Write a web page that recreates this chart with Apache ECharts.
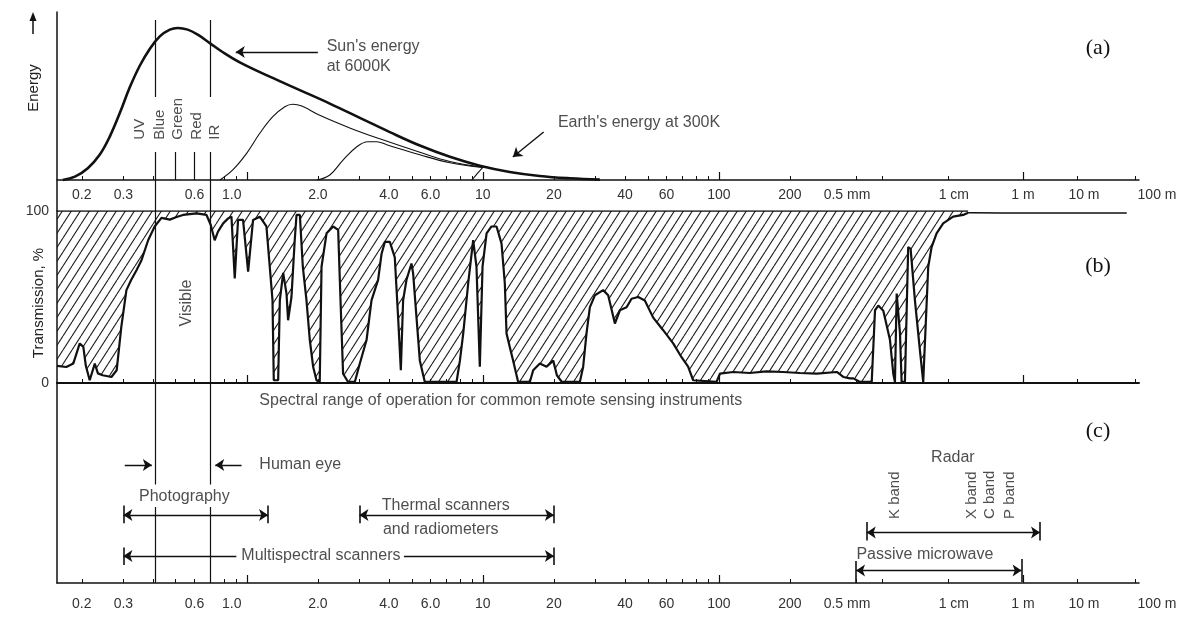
<!DOCTYPE html>
<html>
<head>
<meta charset="utf-8">
<title>Atmospheric windows and remote sensing bands</title>
<script src="https://cdn.jsdelivr.net/npm/echarts@6/dist/echarts.min.js"></script>
<style>
  html, body { margin: 0; padding: 0; background: #fff; }
  #chart { width: 1192px; height: 624px; }
</style>
</head>
<body>
<div id="chart"></div>
<script>
// ---------------------------------------------------------------
// Wavelength scale: logarithmic (one decade per unit) up to 200 µm,
// then compressed through the microwave / radio part of the spectrum.
// ---------------------------------------------------------------
const SCALE_WL = [0.1, 200, 500, 1000, 1e4, 1e6, 1e7, 1e8];   // µm
const SCALE_AT = [-1, 2.301, 2.581, 2.691, 2.970, 3.288, 3.517, 3.763];
function pos(wl) {
  const l = Math.log10(wl);
  for (let i = 0; i < SCALE_WL.length - 1; i++) {
    const a = Math.log10(SCALE_WL[i]), b = Math.log10(SCALE_WL[i + 1]);
    if (l <= b || i === SCALE_WL.length - 2) {
      return SCALE_AT[i] + (l - a) / (b - a) * (SCALE_AT[i + 1] - SCALE_AT[i]);
    }
  }
}
const WL_MIN = 0.157, WL_MAX = 1.17e8;

// Axis ticks and labels (wavelength in µm)
const TICK_WL  = [0.2, 0.3, 0.4, 0.5, 0.6, 0.7, 0.8, 0.9, 2, 3, 4, 5, 6, 7, 8, 9,
                  20, 30, 40, 50, 60, 70, 80, 90, 200, 500, 1000, 1e4, 1e7, 1e8];
const MAJOR_WL = [1, 10, 100, 1e6];
const LABEL_WL  = [0.2, 0.3, 0.6, 1, 2, 4, 6, 10, 20, 40, 60, 100, 200, 500, 1e4, 1e6, 1e7, 1e8];
const LABEL_TXT = ['0.2', '0.3', '0.6', '1.0', '2.0', '4.0', '6.0', '10', '20', '40', '60',
                   '100', '200', '0.5 mm', '1 cm', '1 m', '10 m', '100 m'];

// (a) Blackbody energy curves (relative energy)
const SUN_WL = [0.166, 0.187, 0.212, 0.238, 0.263, 0.290, 0.319, 0.352, 0.388, 0.428,
                0.472, 0.510, 0.562, 0.620, 0.697, 0.783, 0.934, 1.251, 1.677, 2.247,
                3.012, 4.036, 5.409, 7.25, 9.71, 13.0, 17.4, 23.4, 31.3];
const SUN_E  = [0, 2, 7, 15, 26, 40, 55, 68, 78, 85.5,
                89.5, 90.5, 89.5, 86.5, 81.5, 76.5, 70, 61.5, 53.5, 45.5,
                37, 28.5, 20.5, 13.8, 8.5, 4.8, 2.4, 1, 0.2];
const MID1_WL = [0.769, 0.872, 1.0, 1.135, 1.289, 1.449, 1.566, 1.710, 2.037, 2.730, 3.659, 5.409, 7.25, 9.99];
const MID1_E  = [0, 6, 16, 27.8, 37.7, 43.6, 45.1, 44, 38.5, 31, 24.5, 16.5, 11, 7.6];
const MID2_WL = [1.982, 2.247, 2.551, 2.925, 3.258, 3.555, 3.915, 5.409, 7.25, 9.99];
const MID2_E  = [0, 3, 11.7, 19.8, 22.8, 22.8, 21, 15, 10.3, 7.4];
const EARTH_WL = [8.96, 9.3, 9.7, 10.05];
const EARTH_E  = [0, 2.5, 5.5, 7.8];

// (b) Atmospheric transmission, %
const TRANS_WL = [
  0.157, 0.172, 0.184, 0.196, 0.203, 0.208, 0.216, 0.227, 0.234, 0.245,
  0.267, 0.281, 0.294, 0.309, 0.324, 0.341, 0.358, 0.382, 0.407, 0.435,
  0.472, 0.504, 0.537, 0.612, 0.675, 0.703, 0.731, 0.755, 0.794, 0.834,
  0.861, 0.889, 0.918, 0.964, 1.013, 1.063, 1.135, 1.211, 1.251, 1.285,
  1.301, 1.358, 1.380, 1.426, 1.473, 1.496, 1.546, 1.596, 1.624, 1.678,
  1.727, 1.790, 1.849, 1.910, 1.973, 2.037, 2.073, 2.177, 2.322, 2.438,
  2.495, 2.558, 2.686, 2.868, 3.012, 3.216, 3.375, 3.600, 3.722, 3.845,
  4.036, 4.236, 4.376, 4.493, 4.594, 4.749, 4.985, 5.066, 5.236, 5.409,
  5.677, 7.737, 7.995, 8.259, 8.669, 9.100, 9.398, 9.709, 9.97, 10.37,
  10.88, 11.43, 12.00, 12.39, 12.60, 13.00, 13.44, 14.11, 15.82, 16.34,
  17.44, 18.62, 19.87, 20.59, 21.62, 25.76, 26.61, 27.49, 28.40, 29.83,
  32.34, 33.96, 36.26, 38.07, 40.63, 42.66, 45.50, 48.56, 52.68, 58.07,
  64.03, 69.46, 74.07, 77.80, 97.7, 101, 115, 135, 159, 187,
  230, 290, 383, 419, 460, 482, 556, 760, 830, 906,
  1047, 1322, 1483, 1573, 1671, 1766, 1874, 1986, 2229, 2500,
  2720, 3162, 3766, 4225, 5035, 5666, 6745, 8487, 13840, 25590,
  34750
];
const TRANS_PCT = [
  10, 9.3, 11.3, 23, 21, 10, 1.6, 11.3, 5.6, 4.5,
  3.5, 7.4, 32.6, 54, 60, 65.6, 71.4, 83, 91, 96,
  95, 96.5, 97.7, 98.6, 97.7, 92, 83, 88, 92.8, 95.7,
  96.7, 60.8, 94.8, 94.8, 64.7, 94.8, 96.7, 91, 67.6, 48,
  1.6, 1.6, 48, 64, 52, 36.5, 50, 83, 97.7, 97.7,
  67.6, 48, 25, 9.5, 1.6, 0.6, 67.6, 87, 91, 89,
  48, 5.4, 0.6, 0.6, 11.3, 25, 48, 60, 75, 82,
  82, 73, 38, 7.4, 48, 60, 69.5, 63.7, 38, 13,
  0.6, 0.6, 13, 28.8, 58, 83, 67.6, 9.5, 67.6, 87,
  91, 91, 81, 58, 28.8, 21, 13, 0.6, 0.6, 7.4,
  11.3, 9.5, 13, 4.5, 0.6, 0.6, 9.5, 28.8, 44, 51,
  54, 51, 34.6, 42.3, 44, 49, 50, 48, 38, 30.7,
  23, 15, 9.5, 1.6, 0.6, 5.4, 6.4, 5.8, 6.8, 6.4,
  5.8, 5.4, 6.4, 3.5, 2.7, 2.7, 0.6, 0.6, 42.3, 45,
  42, 25, 5.4, 0.6, 52, 53, 29, 0.6, 0.6, 79,
  78, 48, 19, 0.6, 67.6, 79, 87, 92.8, 96.7, 97.7,
  99
];
// long-wave tail, practically fully transparent
const TAIL_WL  = [34750, 47280, 243700, 7.2e7];
const TAIL_PCT = [99, 99, 98.8, 98.8];

// (c) Instrument ranges, µm
const PHOTO_RANGE   = [0.3, 1.23];
const THERMAL_RANGE = [3, 20];
const MSS_RANGE     = [0.3, 20];
const RADAR_RANGE   = [665, 2.07e6];
const PASSIVE_RANGE = [500, 9.2e5];
const EYE_RANGE     = [0.41, 0.7];          // blue and IR boundaries
const GREEN_EDGE = 0.5, RED_EDGE = 0.6;

// ---------------------------------------------------------------
const INK = '#111';
const TXT = '#222';
const SANS = '"Liberation Sans", Arial, Helvetica, sans-serif';
const SERIF = '"Liberation Serif", "Times New Roman", serif';
const NOTE_SIZE = 16;

const X_MIN = pos(WL_MIN), X_MAX = pos(WL_MAX);
const tickPos  = TICK_WL.map(pos);
const majorPos = MAJOR_WL.map(pos);
const labelPos = LABEL_WL.map(pos);

// small horizontal nudges for a few tick labels (px)
const LABEL_NUDGE = { '1.0': -15, '0.5 mm': -9, '1 cm': 6, '10 m': 7, '100 m': 22 };
const labelRich = {};
LABEL_TXT.forEach((t, i) => {
  const d = LABEL_NUDGE[t];
  if (d) {
    labelRich['n' + i] = {
      fontSize: 14, color: '#333', fontFamily: SANS,
      padding: d < 0 ? [0, -2 * d, 0, 0] : [0, 0, 0, 2 * d]
    };
  }
});
function tickLabel(v) {
  let best = 0;
  labelPos.forEach((p, i) => { if (Math.abs(p - v) < Math.abs(labelPos[best] - v)) best = i; });
  const t = LABEL_TXT[best];
  return LABEL_NUDGE[t] ? '{n' + best + '|' + t + '}' : t;
}

const zip = (xs, ys) => xs.map((w, i) => [pos(w), ys[i]]);

// diagonal hatching for the absorbed part of the spectrum
const hatch = (() => {
  const w = 9, h = 14;
  const c = document.createElement('canvas');
  c.width = w; c.height = h;
  const g = c.getContext('2d');
  g.strokeStyle = '#1a1a1a';
  g.lineWidth = 1.1;
  for (const dx of [-w, 0, w]) {
    g.beginPath(); g.moveTo(dx, h); g.lineTo(dx + w, 0); g.stroke();
  }
  return c;
})();

// Grid geometry
const GRID_A = { left: 57, right: 53, top: 12, height: 199, outerBoundsMode: 'none' };   // energy, axis at E = 0
const GRID_B = { left: 57, right: 53, top: 211, height: 172, outerBoundsMode: 'none' };  // transmission
const GRID_C = { left: 57, right: 53, top: 383, height: 200, outerBoundsMode: 'none' };  // instruments
const E_MIN = -18.45;   // energy value at the bottom of grid A (under its axis labels)

function mainX(gridIndex, extra) {
  return Object.assign({
    type: 'value', gridIndex, min: X_MIN, max: X_MAX, position: 'bottom',
    splitLine: { show: false },
    axisLine: { show: true, onZero: false, lineStyle: { color: INK, width: 1.5 } },
    axisTick: { show: true, inside: true, length: 4, customValues: tickPos, lineStyle: { color: INK, width: 1 } },
    axisLabel: { show: false }
  }, extra);
}
function majorX(gridIndex, offset) {
  return {
    type: 'value', gridIndex, min: X_MIN, max: X_MAX, position: 'top', offset: -offset,
    splitLine: { show: false },
    axisLine: { show: false },
    axisTick: { show: true, inside: false, length: 8, customValues: majorPos, lineStyle: { color: INK, width: 1.2 } },
    axisLabel: { show: false }
  };
}
const labelCfg = (margin) => ({
  show: true, customValues: labelPos, formatter: tickLabel, margin,
  fontSize: 14, color: '#333', fontFamily: SANS, rich: labelRich
});

// helpers for annotation segments / arrows and text
function segs(xi, yi, list, symbol, width) {
  return {
    type: 'lines', coordinateSystem: 'cartesian2d', xAxisIndex: xi, yAxisIndex: yi,
    silent: true, symbol: symbol || ['none', 'none'], symbolSize: 9, z: 5,
    lineStyle: { color: INK, width: width || 1.4, opacity: 1, curveness: 0 },
    data: list.map(s => ({ coords: [[pos(s[0]), s[1]], [pos(s[2]), s[3]]] }))
  };
}
function texts(xi, yi, list) {
  return {
    type: 'scatter', xAxisIndex: xi, yAxisIndex: yi, silent: true, z: 6,
    symbolSize: 1, itemStyle: { color: 'rgba(0,0,0,0)' },
    data: list.map(t => ({
      value: [pos(t.wl), t.v],
      label: {
        show: true, formatter: t.text, position: 'inside',
        align: t.align || 'center', verticalAlign: 'middle', rotate: t.rotate || 0,
        fontSize: t.size || NOTE_SIZE, color: TXT, fontFamily: SANS, lineHeight: t.lh || 18
      }
    }))
  };
}

const [BLUE, IR] = EYE_RANGE;
const option = {
  animation: false,
  backgroundColor: '#fff',
  grid: [GRID_A, GRID_B, GRID_C],
  xAxis: [
    // energy axis sits on E = 0; its labels are pulled up from the grid edge
    mainX(0, { axisLine: { show: true, onZero: true, lineStyle: { color: INK, width: 1.5 } }, axisLabel: labelCfg(-23) }),
    majorX(0, 168),
    mainX(1, { axisLine: { show: true, onZero: false, lineStyle: { color: INK, width: 2 } } }),
    majorX(1, 172),
    mainX(2, { axisLabel: labelCfg(14) }),
    majorX(2, 200)
  ],
  yAxis: [
    {
      type: 'value', gridIndex: 0, min: E_MIN, max: 100,
      splitLine: { show: false }, axisTick: { show: false }, axisLabel: { show: false },
      axisLine: { show: true, onZero: false, lineStyle: { color: INK, width: 1.5 } },
      name: 'Energy', nameLocation: 'middle', nameRotate: 90, nameGap: 16, nameMoveOverlap: false,
      nameTextStyle: { fontSize: 15, color: TXT, fontFamily: SANS, padding: [0, 0, 0, 47] }
    },
    {
      type: 'value', gridIndex: 1, min: 0, max: 100, interval: 100,
      splitLine: { show: false }, axisTick: { show: false },
      axisLine: { show: true, onZero: false, lineStyle: { color: INK, width: 1.5 } },
      axisLabel: { fontSize: 14, color: '#333', fontFamily: SANS, margin: 8 },
      name: 'Transmission, %', nameLocation: 'middle', nameRotate: 90, nameGap: 11, nameMoveOverlap: false,
      nameTextStyle: { fontSize: 15, color: TXT, fontFamily: SANS, padding: [0, 12, 0, 0] }
    },
    {
      type: 'value', gridIndex: 2, min: 0, max: 100,
      splitLine: { show: false }, axisTick: { show: false }, axisLabel: { show: false },
      axisLine: { show: true, onZero: false, lineStyle: { color: INK, width: 1.5 } }
    }
  ],
  graphic: [
    { type: 'line', shape: { x1: 33, y1: 34, x2: 33, y2: 17 }, style: { stroke: INK, lineWidth: 1.5 } },
    { type: 'polygon', shape: { points: [[29.5, 21], [33, 12], [36.5, 21]] }, style: { fill: INK } },
    { type: 'text', x: 1098, y: 48, style: { text: '(a)', font: '22px ' + SERIF, fill: INK, align: 'center', verticalAlign: 'middle' } },
    { type: 'text', x: 1098, y: 266, style: { text: '(b)', font: '22px ' + SERIF, fill: INK, align: 'center', verticalAlign: 'middle' } },
    { type: 'text', x: 1098, y: 431, style: { text: '(c)', font: '22px ' + SERIF, fill: INK, align: 'center', verticalAlign: 'middle' } }
  ],
  series: [
    // ---- (a) energy curves
    { type: 'line', xAxisIndex: 0, yAxisIndex: 0, data: zip(SUN_WL, SUN_E), symbol: 'none',
      smooth: 0.4, lineStyle: { color: INK, width: 2.6 }, z: 3 },
    { type: 'line', xAxisIndex: 0, yAxisIndex: 0, data: zip(MID1_WL, MID1_E), symbol: 'none',
      smooth: 0.4, lineStyle: { color: INK, width: 1.1 }, z: 3 },
    { type: 'line', xAxisIndex: 0, yAxisIndex: 0, data: zip(MID2_WL, MID2_E), symbol: 'none',
      smooth: 0.4, lineStyle: { color: INK, width: 1.1 }, z: 3 },
    { type: 'line', xAxisIndex: 0, yAxisIndex: 0, data: zip(EARTH_WL, EARTH_E), symbol: 'none',
      smooth: 0.3, lineStyle: { color: INK, width: 1.1 }, z: 3 },
    segs(0, 0, [
      [BLUE, 95.2, BLUE, 49.4], [BLUE, 16.7, BLUE, E_MIN],
      [IR, 95.2, IR, 49.4], [IR, 16.7, IR, E_MIN],
      [GREEN_EDGE, 16.7, GREEN_EDGE, 0], [RED_EDGE, 16.7, RED_EDGE, 0]
    ], null, 1.2),
    segs(0, 0, [[2.0, 76.2, 0.898, 76.2], [18.1, 28.6, 13.4, 13.7]], ['none', 'arrow'], 1.4),
    texts(0, 0, [
      { wl: 2.18, v: 73.2, text: "Sun's energy\nat 6000K", align: 'left', lh: 20 },
      { wl: 20.8, v: 33.9, text: "Earth's energy at 300K", align: 'left' },
      { wl: 0.354, v: 24, text: 'UV', align: 'left', rotate: 90, size: 15 },
      { wl: 0.43, v: 24, text: 'Blue', align: 'left', rotate: 90, size: 15 },
      { wl: 0.51, v: 24, text: 'Green', align: 'left', rotate: 90, size: 15 },
      { wl: 0.615, v: 24, text: 'Red', align: 'left', rotate: 90, size: 15 },
      { wl: 0.735, v: 24, text: 'IR', align: 'left', rotate: 90, size: 15 }
    ]),

    // ---- (b) transmission; hatched area is the absorbed part above the curve
    { type: 'line', xAxisIndex: 2, yAxisIndex: 1, data: zip(TRANS_WL, TRANS_PCT), symbol: 'none',
      lineStyle: { color: INK, width: 2.2 }, z: 4,
      areaStyle: { origin: 'end', opacity: 1, color: { image: hatch, repeat: 'repeat' } } },
    { type: 'line', xAxisIndex: 2, yAxisIndex: 1, data: zip(TAIL_WL, TAIL_PCT), symbol: 'none',
      lineStyle: { color: INK, width: 1.6 }, z: 4 },
    { type: 'line', xAxisIndex: 2, yAxisIndex: 1, data: zip([WL_MIN, fullTransEnd()], [100, 100]),
      symbol: 'none', lineStyle: { color: INK, width: 1.6 }, z: 4 },
    segs(2, 1, [[BLUE, 0, BLUE, 100], [IR, 0, IR, 100]], null, 1.2),
    texts(2, 1, [{ wl: 0.555, v: 46.5, text: 'Visible', rotate: 90 }]),

    // ---- (c) instrument ranges
    segs(4, 2, [
      [BLUE, 100, BLUE, 49.2], [BLUE, 38, BLUE, 0],
      [IR, 100, IR, 49.2], [IR, 38, IR, 0]
    ], null, 1.2),
    segs(4, 2, [
      [PHOTO_RANGE[0], 38.7, PHOTO_RANGE[0], 29.9], [PHOTO_RANGE[1], 38.7, PHOTO_RANGE[1], 29.9],
      [THERMAL_RANGE[0], 38.7, THERMAL_RANGE[0], 29.9], [THERMAL_RANGE[1], 38.7, THERMAL_RANGE[1], 29.9],
      [MSS_RANGE[0], 17.8, MSS_RANGE[0], 9], [MSS_RANGE[1], 17.8, MSS_RANGE[1], 9],
      [RADAR_RANGE[0], 30.5, RADAR_RANGE[0], 21.2], [RADAR_RANGE[1], 30.5, RADAR_RANGE[1], 21.2],
      [PASSIVE_RANGE[0], 11, PASSIVE_RANGE[0], 0], [PASSIVE_RANGE[1], 12, PASSIVE_RANGE[1], 0.5]
    ], null, 1.6),
    segs(4, 2, [
      [0.304, 59, 0.396, 59], [0.95, 59, 0.735, 59],
      [0.903, 13.5, MSS_RANGE[0], 13.5], [4.63, 13.5, MSS_RANGE[1], 13.5]
    ], ['none', 'arrow'], 1.4),
    segs(4, 2, [
      [PHOTO_RANGE[0], 34, PHOTO_RANGE[1], 34],
      [THERMAL_RANGE[0], 34, THERMAL_RANGE[1], 34],
      [RADAR_RANGE[0], 25.2, RADAR_RANGE[1], 25.2],
      [PASSIVE_RANGE[0], 6.2, PASSIVE_RANGE[1], 6.2]
    ], ['arrow', 'arrow'], 1.4),
    texts(4, 2, [
      { wl: 1.13, v: 91, text: 'Spectral range of operation for common remote sensing instruments', align: 'left' },
      { wl: 1.13, v: 59, text: 'Human eye', align: 'left' },
      { wl: 0.544, v: 43, text: 'Photography' },
      { wl: 6.97, v: 38.5, text: 'Thermal scanners' },
      { wl: 6.63, v: 26.5, text: 'and radiometers' },
      { wl: 2.06, v: 13.5, text: 'Multispectral scanners' },
      { wl: 13600, v: 62.6, text: 'Radar' },
      { wl: 1573, v: 32, text: 'K band', align: 'left', rotate: 90, size: 15 },
      { wl: 43650, v: 32, text: 'X band', align: 'left', rotate: 90, size: 15 },
      { wl: 131800, v: 32, text: 'C band', align: 'left', rotate: 90, size: 15 },
      { wl: 450000, v: 32, text: 'P band', align: 'left', rotate: 90, size: 15 },
      { wl: 505, v: 14, text: 'Passive microwave', align: 'left' }
    ])
  ]
};

// the 100 % rule runs until the transmission curve rejoins it
function fullTransEnd() { return TRANS_WL[TRANS_WL.length - 1]; }

const chart = echarts.init(document.getElementById('chart'), null, { renderer: 'canvas' });
chart.setOption(option);
</script>
</body>
</html>
